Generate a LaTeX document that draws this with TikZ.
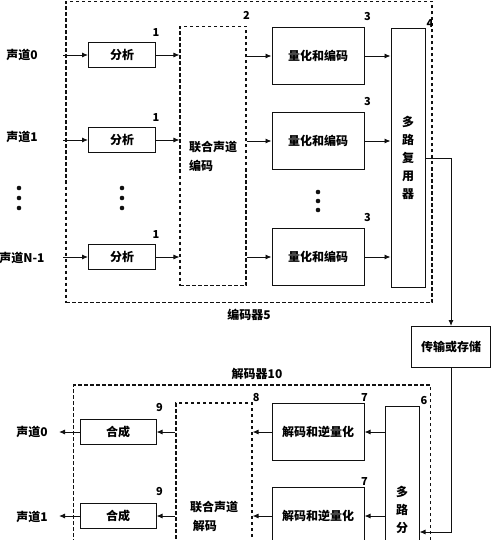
\documentclass[tikz,border=0pt]{standalone}
\usepackage{fontspec}
\setmainfont{Noto Sans CJK SC}
\usepackage{tikz}
\usetikzlibrary{arrows.meta,positioning,calc}
\definecolor{inkline}{HTML}{111111}
\tikzset{
  blk/.style   ={draw=inkline,line width=1pt,fill=white,inner sep=2pt,
                 align=center,font=\bfseries\fontsize{12}{14}\selectfont},
  tallblk/.style={draw=inkline,line width=1pt,fill=white,inner sep=2pt,
                 align=center,font=\bfseries\fontsize{12}{18}\selectfont},
  dbox/.style  ={draw=inkline,line width=1.1pt,dash pattern=on 3.5pt off 2.5pt,
                 inner sep=2pt,align=left,font=\bfseries\fontsize{12}{19}\selectfont},
  tag/.style   ={font=\bfseries\fontsize{12}{14}\selectfont,inner sep=1pt},
  num/.style   ={font=\bfseries\fontsize{11}{12}\selectfont,inner sep=1pt},
  dot/.style   ={fill=inkline,draw=none},
  flow/.style  ={-{Latex[length=6pt,width=5pt]},line width=0.9pt,draw=inkline}
}

\begin{document}
\begin{tikzpicture}[x=1pt,y=-1pt]
        \useasboundingbox (0,0) rectangle (500,540);
        \clip (0,0) rectangle (500,540);
        % encoder
        \node[dbox,minimum width=366pt,minimum height=301pt] (enc) at (249,152) {};
        \node[tag,below=5pt of enc] (enclbl) {编码器5};
        \node[blk,minimum width=67pt,minimum height=25pt] (an0) at (122,55) {分析};
        \node[blk,minimum width=67pt,minimum height=25pt] (an1) at (122,140) {分析};
        \node[blk,minimum width=67pt,minimum height=25pt] (an2) at (122,257) {分析};
        \node[dbox,minimum width=66pt,minimum height=259pt] (jenc) at (213,156) {联合声道\\ 编码};
        \node[blk,minimum width=92pt,minimum height=57pt] (qc0) at (318,56) {量化和编码};
        \node[blk,minimum width=92pt,minimum height=57pt] (qc1) at (318,141) {量化和编码};
        \node[blk,minimum width=92pt,minimum height=57pt] (qc2) at (318,257) {量化和编码};
        \node[tallblk,minimum width=34pt,minimum height=258pt] (mux) at (408,158) {多\\路\\复\\用\\器};
        \node[num,above=4pt of an0.north east] (n1a) {1};
        \node[num,above=4pt of an1.north east] (n1b) {1};
        \node[num,above=4pt of an2.north east] (n1c) {1};
        \node[num,above=5pt of jenc.north east] (n2) {2};
        \node[num,above=5pt of qc0.north east,xshift=3pt] (n3a) {3};
        \node[num,above=5pt of qc1.north east,xshift=3pt] (n3b) {3};
        \node[num,above=5pt of qc2.north east,xshift=3pt] (n3c) {3};
        \node[num,above right=0pt and 0pt of mux.north east] (n4) {4};
        % channels in
        \node[tag] (ch0) at (22,55) {声道0};
        \node[tag] (ch1) at (22,137) {声道1};
        \node[tag] (chn) at (22,258) {声道N-1};
        \coordinate (in0) at (63,55);
        \coordinate (in1) at (63,140);
        \coordinate (inn) at (63,257);
        \foreach \px/\py in {19/188,19/198,19/208,122/188,122/198,122/208,318/192,318/201,318/210}
          \fill[dot] (\px,\py) circle (2.3);
        \draw[flow] (in0) -- (an0);
        \draw[flow] (in1) -- (an1);
        \draw[flow] (inn) -- (an2);
        \foreach \i in {0,1,2} {
          \draw[flow] (an\i.east) -- (an\i.east -| jenc.west);
          \draw[flow] (jenc.east |- qc\i.west) -- (qc\i.west);
          \draw[flow] (qc\i.east) -- (qc\i.east -| mux.west);
        }
        % channel
        \node[blk,minimum width=79pt,minimum height=41pt] (tx) at (451,347) {传输或存储};
        \draw[flow] (mux.east) -| (tx.north);
        % decoder
        \node[dbox,minimum width=357pt,minimum height=200pt] (dec) at (252,485) {};
        \node[tag,above=4pt of dec.north,xshift=5pt] (declbl) {解码器10};
        \node[tallblk,minimum width=34pt,minimum height=252pt] (demux) at (402,532) {};
        \node[tallblk,draw=none,fill=none,below=78pt of demux.north] (dmxtxt) {多\\路\\分};
        \node[blk,minimum width=92pt,minimum height=57pt] (dq0) at (318,432) {解码和逆量化};
        \node[blk,minimum width=92pt,minimum height=57pt] (dq1) at (318,516) {解码和逆量化};
        \node[dbox,minimum width=76pt,minimum height=226pt] (jdec) at (214,516) {联合声道\\ \ 解码};
        \node[blk,minimum width=76pt,minimum height=25pt] (sy0) at (118,432) {合成};
        \node[blk,minimum width=76pt,minimum height=25pt] (sy1) at (118,516) {合成};
        \node[num,above=0pt of dq0.north east] (n7a) {7};
        \node[num,above=0pt of dq1.north east] (n7b) {7};
        \node[num,above right=0pt and 0pt of demux.north east] (n6) {6};
        \node[num,above right=0pt and -1pt of jdec.north east] (n8) {8};
        \node[num,above=6pt of sy0.north east,xshift=3pt] (n9a) {9};
        \node[num,above=6pt of sy1.north east,xshift=3pt] (n9b) {9};
        \node[tag] (out0) at (32,432) {声道0};
        \node[tag] (out1) at (32,517) {声道1};
        \coordinate (o0) at (59,432);
        \coordinate (o1) at (59,516);
        \draw[flow] (tx.south) |- (demux.east);
        \foreach \i in {0,1} {
          \draw[flow] (demux.west |- dq\i.east) -- (dq\i.east);
          \draw[flow] (dq\i.west) -- (dq\i.west -| jdec.east);
          \draw[flow] (jdec.west |- sy\i.east) -- (sy\i.east);
          \draw[flow] (sy\i.west) -- (o\i);
        }
      \end{tikzpicture}
\end{document}
